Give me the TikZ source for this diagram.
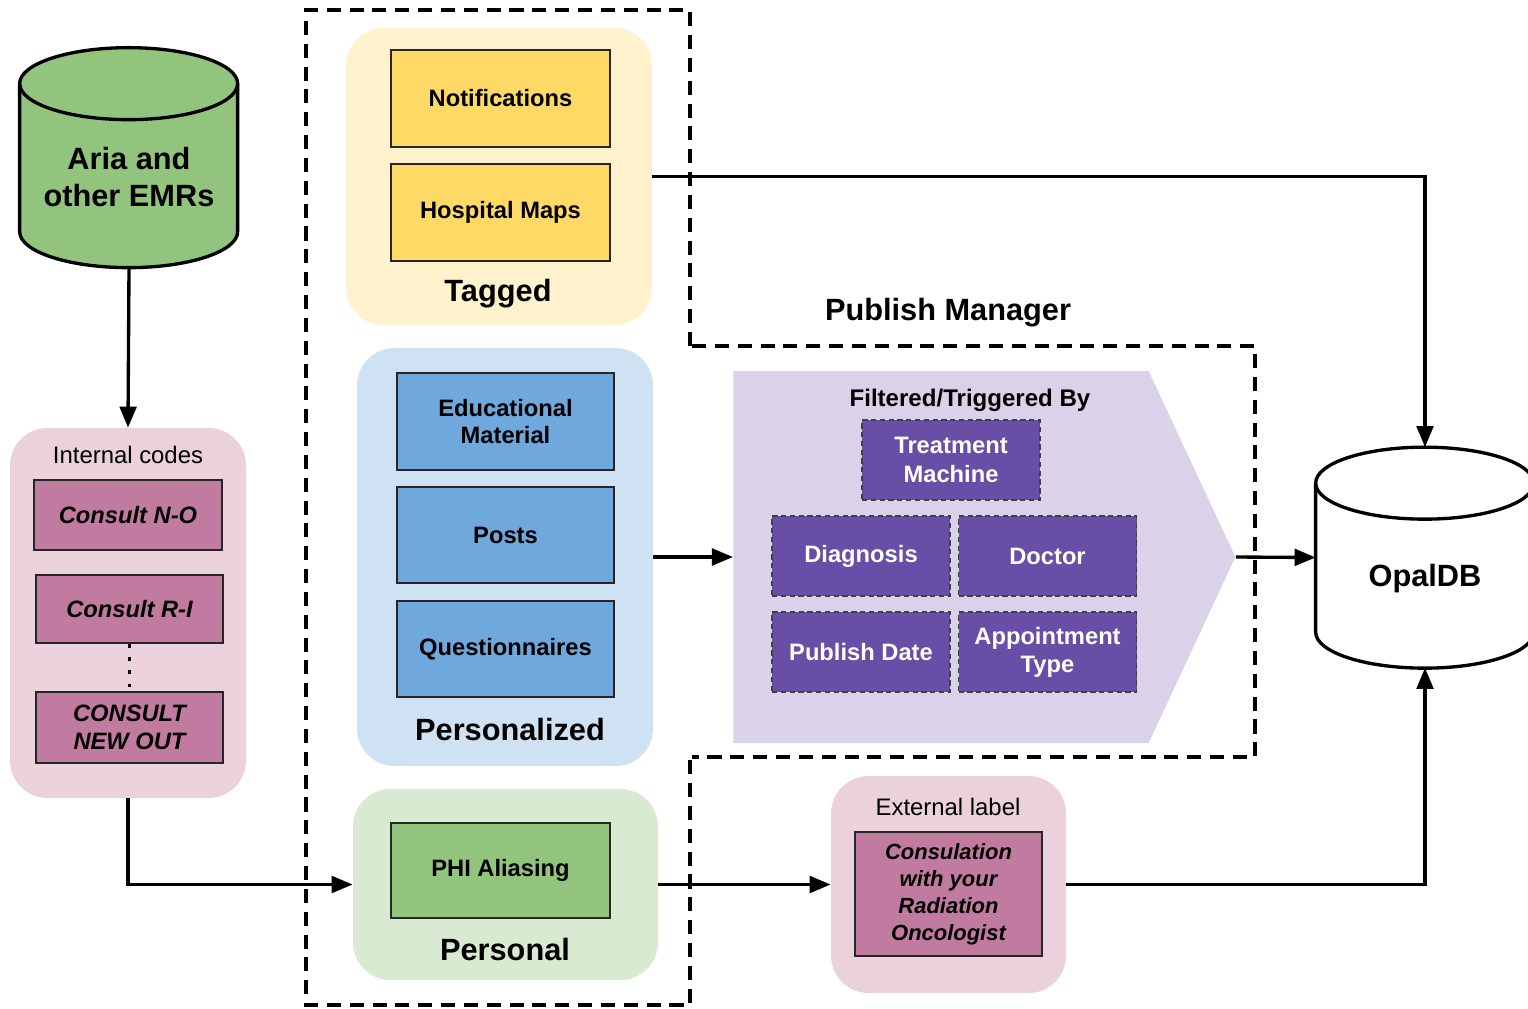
\documentclass[tikz,border=0pt]{standalone}
\usepackage{fontspec}
\setmainfont{Liberation Sans}
\usetikzlibrary{arrows.meta,positioning,shapes.geometric,shapes.symbols}
\definecolor{emrgreen}{HTML}{93C47D}
\definecolor{tagbg}{HTML}{FFF2CC}
\definecolor{tagyellow}{HTML}{FFD966}
\definecolor{persbg}{HTML}{CFE2F3}
\definecolor{persblue}{HTML}{6FA8DC}
\definecolor{phibg}{HTML}{D9EAD3}
\definecolor{codebg}{HTML}{EAD1DC}
\definecolor{codepink}{HTML}{C27BA0}
\definecolor{filtbg}{HTML}{D9D2E9}
\definecolor{filtpurple}{HTML}{674EA7}
\newdimen\pxu \pxu=0.02cm
\tikzset{
  group/.style={rounded corners=0.75cm,inner sep=0pt},
  grouptitle/.style={font=\fontsize{17.5}{20}\selectfont\bfseries},
  grouplabel/.style={font=\fontsize{13.6}{16}\selectfont},
  item/.style={draw=black!85,line width=1.2pt,inner sep=0pt,align=center,
    font=\fontsize{13.5}{15.8}\selectfont\bfseries},
  codebox/.style={item,fill=codepink,font=\fontsize{13.5}{16}\selectfont\bfseries\itshape},
  filtbox/.style={draw=black!75,densely dashed,line width=0.6pt,fill=filtpurple,
    text=white,align=center,inner sep=0pt,minimum width=178\pxu,minimum height=80\pxu,
    font=\fontsize{13.5}{16}\selectfont\bfseries},
  db/.style={inner sep=0pt,minimum width=218\pxu,minimum height=220\pxu},
  dbline/.style={line width=1.9pt,line join=round},
  dblabel/.style={align=center,font=\fontsize{17.5}{20.5}\selectfont\bfseries},
  arr/.style={-{Triangle[length=12pt,width=9.5pt]},line width=1.9pt},
  frame/.style={dash pattern=on 8pt off 5pt,line width=1.9pt},
}
\begin{document}
\begin{tikzpicture}[x=0.02cm,y=-0.02cm]
  \useasboundingbox (0,0) rectangle (1528,1008);
  % outer dashed frame, broken where the publish manager sits
  \draw[frame] (690,346) -- (690,10) -- (306,10) -- (306,1005) -- (690,1005) -- (690,757);
  % EMR source
  \node[db] (aria) at (129,158) {};
  \draw[dbline,fill=emrgreen] (aria.north west) ++(0,36) -- ++(0,148)
    arc[start angle=180,end angle=360,x radius=109\pxu,y radius=36\pxu] -- ++(0,-148)
    arc[start angle=0,end angle=180,x radius=109\pxu,y radius=36\pxu] -- cycle;
  \draw[dbline] (aria.north west) ++(0,36) arc[start angle=180,end angle=360,x radius=109\pxu,y radius=36\pxu];
  \node[dblabel] (arialabel) at (129,177) {Aria and\\other EMRs};
  % Internal codes
  \node[group,fill=codebg,minimum width=236\pxu,minimum height=370\pxu] (internal) at (128,613) {};
  \node[grouplabel] (internaltitle) at (128,455) {Internal codes};
  \node[codebox,minimum width=188\pxu,minimum height=70\pxu] (consno) at (128,515) {Consult N-O};
  \node[codebox,minimum width=187\pxu,minimum height=68\pxu] (consri) at (129.5,609) {Consult R-I};
  \node[codebox,minimum width=187\pxu,minimum height=71\pxu] (consnew) at (129.5,727.5) {CONSULT\\NEW OUT};
  \draw[line width=1.9pt,dash pattern=on 2pt off 5.5pt] (consri.south) -- (consnew.north);
  % Tagged
  \node[group,fill=tagbg,minimum width=306\pxu,minimum height=297\pxu] (tagged) at (499,176.5) {};
  \node[item,fill=tagyellow,minimum width=219\pxu,minimum height=97\pxu] (notif) at (500.5,98.5) {Notifications};
  \node[item,fill=tagyellow,minimum width=219\pxu,minimum height=97\pxu] (maps) at (500.5,212.5) {Hospital Maps};
  \node[grouptitle] (taggedtitle) at (498,294) {Tagged};
  % Personalized
  \node[group,fill=persbg,minimum width=296\pxu,minimum height=418\pxu] (persnl) at (505,557) {};
  \node[item,fill=persblue,minimum width=217\pxu,minimum height=97\pxu] (edu) at (505.5,421.5) {Educational\\Material};
  \node[item,fill=persblue,minimum width=217\pxu,minimum height=96\pxu] (posts) at (505.5,535) {Posts};
  \node[item,fill=persblue,minimum width=217\pxu,minimum height=96\pxu] (quest) at (505.5,649) {Questionnaires};
  \node[grouptitle] (persnltitle) at (510,729) {Personalized};
  % Personal
  \node[group,fill=phibg,minimum width=305\pxu,minimum height=191\pxu] (personal) at (505.5,884.5) {};
  \node[item,fill=emrgreen,minimum width=219\pxu,minimum height=95\pxu] (phi) at (500.5,870.5) {PHI Aliasing};
  \node[grouptitle] (personaltitle) at (505,949) {Personal};
  % Publish manager
  \draw[frame] (692,346) -- (1255,346) -- (1255,757) -- (692,757);
  \node[grouptitle] (pmtitle) at (948,313) {Publish Manager};
  \node[signal,signal to=east,signal pointer angle=130,fill=filtbg,inner sep=0pt,
    minimum width=502\pxu,minimum height=372\pxu] (filter) at (941,557) {};
  \node[font=\fontsize{13.7}{16}\selectfont\bfseries] (filtertitle) at (970,400) {Filtered/Triggered By};
  \node[filtbox] (treat) at (951,460) {Treatment\\Machine};
  \node[filtbox] (diag) at (861,556) {Diagnosis};
  \node[filtbox] (doc) at (1047.5,556) {Doctor};
  \node[filtbox] (pubdate) at (861,652) {Publish Date};
  \node[filtbox] (appt) at (1047.5,652) {Appointment\\Type};
  % External label
  \node[group,fill=codebg,minimum width=235\pxu,minimum height=217\pxu] (external) at (948.5,884.5) {};
  \node[grouplabel] (externaltitle) at (948,807) {External label};
  \node[codebox,minimum width=187\pxu,minimum height=124\pxu,font=\fontsize{12.5}{15.3}\selectfont\bfseries\itshape]
    (consul) at (948.5,894) {Consulation\\with your\\Radiation\\Oncologist};
  % OpalDB
  \node[db] (opal) at (1425,557.5) {};
  \draw[dbline,fill=white] (opal.north west) ++(0,36) -- ++(0,149)
    arc[start angle=180,end angle=360,x radius=109\pxu,y radius=36\pxu] -- ++(0,-149)
    arc[start angle=0,end angle=180,x radius=109\pxu,y radius=36\pxu] -- cycle;
  \draw[dbline] (opal.north west) ++(0,36) arc[start angle=180,end angle=360,x radius=109\pxu,y radius=36\pxu];
  \node[dblabel] (opallabel) at (1425,579) {OpalDB};
  % Arrows
  \draw[arr] (aria.south) -- (internal.north);
  \draw[arr] (internal.south) |- (personal.west);
  \draw[arr] (personal.east) -- (external.west);
  \draw[arr] (external.east) -| (opal.south);
  \draw[arr] (tagged.east) -| (opal.north);
  \draw[arr] (persnl.east) -- (filter.west);
  \draw[arr] (filter.east) -- (opal.west);
\end{tikzpicture}
\end{document}
